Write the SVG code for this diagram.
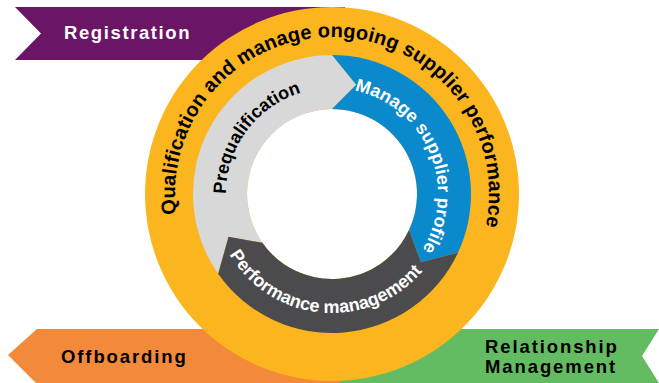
<svg xmlns="http://www.w3.org/2000/svg" width="659" height="383" viewBox="0 0 659 383">
  <style>
    .ban { font-family: "Liberation Sans", Arial, sans-serif; font-weight: bold; font-size: 18.5px; letter-spacing: 1.9px; }
    .ring { font-family: "Liberation Sans", Arial, sans-serif; font-weight: bold; }
  </style>
  <defs>
    <path id="cwOuter" d="M332,351 A157,157 0 0 1 332,37 A157,157 0 0 1 332,351"/>
    <path id="cwInner" d="M332,300 A106,106 0 0 1 332,88 A106,106 0 0 1 332,300"/>
    <path id="ccwBottom" d="M213,194 A119,119 0 0 0 451,194"/>
  </defs>
  <rect width="659" height="383" fill="#ffffff"/>

  <g id="registration">
    <polygon points="15,7 345,7 345,60 15,60 41,33.5" fill="#6A1566"/>
    <text class="ban" x="64" y="39" fill="#ffffff" style="letter-spacing:1.6px">Registration</text>
  </g>
  <g id="offboarding">
    <polygon points="37,329 345,329 345,383 36,383 8,355" fill="#F38A39"/>
    <text class="ban" x="61" y="363" fill="#000000">Offboarding</text>
  </g>
  <g id="relationship-management">
    <polygon points="340,329 659,329 642,356 659,383 340,383" fill="#63BC61"/>
    <text class="ban" x="485" y="353" fill="#000000">Relationship</text>
    <text class="ban" x="485" y="373" fill="#000000">Management</text>
  </g>

  <g id="qualification-ring">
    <circle cx="332" cy="194" r="187" fill="#FBB51F"/>
    <circle cx="332" cy="194" r="85" fill="#ffffff"/>
    <text class="ring" font-size="20" letter-spacing="0.15" fill="#000000" transform="rotate(2.3 332 194)"><textPath href="#cwOuter" startOffset="50%" text-anchor="middle">Qualification and manage ongoing supplier performance</textPath></text>
  </g>

  <g id="prequalification">
    <path d="M218.14,273.73 L228.53,236.86 L262.37,242.75 A85,85 0 0 1 332,109 L356.24,84.65 L332,55 A139,139 0 0 0 218.14,273.73 Z" fill="#D8D8D8"/>
    <text class="ring" font-size="18" fill="#000000" transform="rotate(-53.5 332 194)"><textPath href="#cwInner" startOffset="50%" text-anchor="middle">Prequalification</textPath></text>
  </g>

  <g id="manage-supplier-profile">
    <path d="M332,55 L356.24,84.65 L332,109 A85,85 0 0 1 409.04,229.92 L420.86,262.18 L457.98,252.74 A139,139 0 0 0 332,55 Z" fill="#0A89CC"/>
    <text class="ring" font-size="18" fill="#ffffff" transform="rotate(67 332 194)"><textPath href="#cwInner" startOffset="50%" text-anchor="middle">Manage supplier profile</textPath></text>
  </g>

  <g id="performance-management">
    <path d="M457.98,252.74 L420.86,262.18 L409.04,229.92 A85,85 0 0 1 262.37,242.75 L228.53,236.86 L218.14,273.73 A139,139 0 0 0 457.98,252.74 Z" fill="#4B4B4D"/>
    <text class="ring" font-size="18" fill="#ffffff" transform="rotate(5 332 194)"><textPath href="#ccwBottom" startOffset="50%" text-anchor="middle">Performance management</textPath></text>
  </g>
</svg>
